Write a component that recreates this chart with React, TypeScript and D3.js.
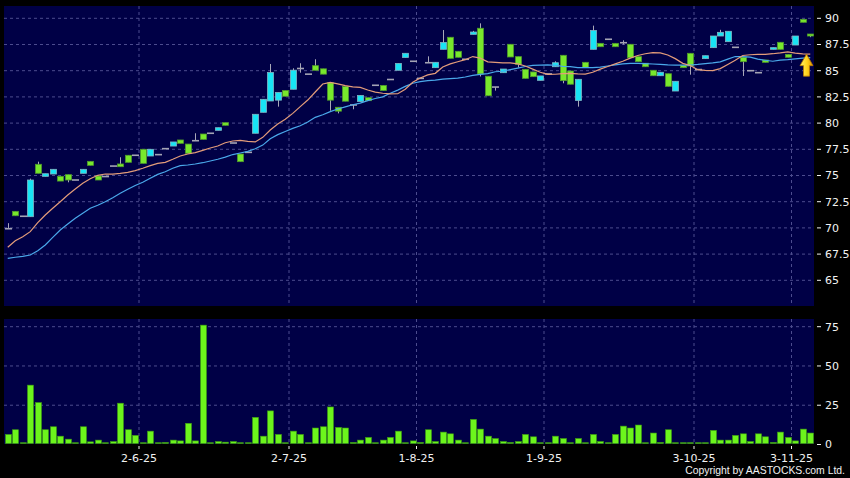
import React from "react";
import * as d3 from "d3";

// ---- data ----
const opens = [69.92, 71.58, 71.11, 71.07, 76.07, 74.92, 75.14, 74.92, 75.08, 74.57,
  75.21, 76.35, 74.95, 74.9, 75.9, 76.1, 76.93, 76.93, 77.5, 76.86,
  76.99, 77.56, 77.81, 78.39, 78.0, 78.32, 78.96, 79.03, 79.31, 80.04,
  78.1, 77.05, 77.21, 79.03, 81.03, 82.11, 82.19, 83.11, 83.23, 85.21,
  84.67, 85.48, 85.18, 83.85, 81.51, 83.49, 81.73, 82.06, 82.42, 83.61,
  83.59, 84.16, 85.04, 86.26, 85.9, 84.27, 85.76, 85.29, 87.04, 88.19,
  86.85, 86.09, 88.47, 89.05, 84.47, 83.44, 84.81, 87.52, 86.34, 85.13,
  84.88, 84.08, 84.69, 85.38, 86.47, 84.97, 82.16, 85.8, 87.04, 87.61,
  88.0, 87.61, 87.67, 87.52, 86.34, 85.71, 85.04, 84.52, 84.71, 83.06,
  85.52, 86.66, 85.11, 86.15, 87.2, 88.31, 87.77, 87.23, 86.28, 85.0,
  84.81, 86.02, 87.04, 87.71, 86.56, 87.45, 89.9, 88.5];

const closes = [69.92, 71.16, 71.11, 74.57, 75.21, 75.17, 75.59, 74.47, 74.57, 74.57,
  75.59, 75.97, 74.57, 74.9, 75.9, 75.84, 76.26, 76.93, 76.16, 77.5,
  76.99, 77.56, 78.2, 78.07, 77.12, 78.32, 78.45, 79.03, 79.56, 79.79,
  78.1, 76.32, 77.21, 80.84, 82.27, 84.83, 82.92, 82.56, 85.05, 85.21,
  84.67, 85.04, 84.67, 82.19, 81.14, 82.09, 81.73, 82.63, 82.14, 83.61,
  83.11, 84.16, 85.69, 86.66, 85.9, 84.27, 85.76, 85.8, 87.69, 86.18,
  86.28, 86.09, 88.69, 84.69, 82.61, 83.44, 85.16, 86.31, 85.61, 84.27,
  84.43, 84.5, 84.69, 85.76, 84.05, 83.71, 84.18, 85.31, 88.84, 87.29,
  88.0, 87.29, 87.67, 86.24, 85.86, 85.38, 84.52, 84.85, 83.51, 83.99,
  85.29, 85.45, 85.11, 86.43, 88.31, 88.66, 88.76, 87.23, 85.86, 85.0,
  84.81, 85.8, 87.2, 87.04, 86.28, 88.31, 89.62, 88.31];

const highs = [70.45, 71.58, 71.11, 74.7, 76.32, 75.17, 75.59, 74.92, 75.08, 74.57,
  75.59, 76.35, 74.95, 74.9, 75.9, 76.74, 76.93, 76.93, 77.5, 77.5,
  76.99, 77.56, 78.2, 78.39, 78.0, 79.03, 78.96, 79.03, 79.56, 80.04,
  78.1, 77.05, 77.21, 80.84, 82.27, 85.64, 82.92, 83.11, 85.23, 85.71,
  84.67, 86.09, 85.18, 83.85, 81.51, 83.49, 81.73, 82.63, 82.42, 83.61,
  83.59, 84.16, 85.69, 86.66, 85.9, 84.27, 86.37, 85.8, 88.88, 88.19,
  86.85, 86.09, 88.8, 89.52, 84.47, 83.44, 85.16, 87.52, 86.34, 85.13,
  84.88, 84.5, 84.69, 85.9, 86.47, 84.97, 84.18, 85.8, 89.3, 87.61,
  88.0, 87.61, 87.9, 87.52, 86.34, 85.71, 85.04, 84.85, 84.71, 83.99,
  85.52, 86.66, 85.11, 86.43, 88.31, 88.9, 88.76, 87.23, 86.28, 85.0,
  84.81, 86.02, 87.2, 87.71, 86.56, 88.31, 89.9, 88.5];

const lows = [69.92, 71.16, 71.11, 71.07, 75.21, 74.92, 75.14, 74.47, 74.35, 74.57,
  75.21, 75.97, 74.57, 74.9, 75.9, 75.84, 76.26, 76.93, 76.16, 76.86,
  76.99, 77.56, 77.81, 78.07, 77.12, 78.32, 78.45, 79.03, 79.31, 79.79,
  78.1, 76.32, 77.21, 79.03, 81.03, 82.11, 81.57, 82.56, 83.23, 84.81,
  84.67, 85.04, 84.67, 81.18, 80.93, 82.09, 81.32, 82.06, 82.14, 83.61,
  83.11, 84.16, 85.04, 86.26, 85.9, 84.27, 85.76, 85.29, 87.04, 86.18,
  86.28, 86.09, 88.47, 84.45, 82.61, 83.1, 84.81, 86.31, 85.3, 84.27,
  84.43, 84.08, 84.69, 85.38, 83.8, 83.71, 81.57, 85.31, 87.04, 87.29,
  88.0, 87.29, 87.5, 86.24, 85.86, 85.38, 84.52, 84.52, 83.51, 83.06,
  85.29, 84.62, 85.11, 86.15, 87.2, 88.31, 87.77, 87.23, 84.5, 85.0,
  84.81, 85.8, 87.04, 87.04, 86.28, 87.45, 89.62, 88.2];

const maFast = [68.15, 68.78, 69.16, 69.64, 70.5, 71.23, 71.87, 72.5, 73.14, 73.71,
  74.26, 74.69, 75.02, 75.14, 75.14, 75.21, 75.3, 75.46, 75.69, 75.94,
  76.16, 76.26, 76.55, 76.86, 77.05, 77.18, 77.4, 77.62, 77.81, 78.13,
  78.29, 78.36, 78.26, 78.2, 78.64, 79.34, 79.91, 80.36, 80.93, 81.57,
  82.2, 82.97, 83.73, 83.89, 83.75, 83.57, 83.45, 83.4, 83.16, 82.95,
  82.85, 82.78, 82.8, 83.23, 83.9, 84.3, 84.6, 84.75, 85.35, 85.65,
  85.85, 86.05, 86.35, 86.2, 85.85, 85.8, 85.75, 85.75, 85.65, 85.45,
  85.15, 84.85, 84.65, 84.66, 84.72, 84.75, 84.7, 84.68, 84.85, 85.15,
  85.4, 85.65, 85.9, 86.2, 86.45, 86.62, 86.72, 86.7, 86.5, 86.15,
  85.7, 85.5, 85.1, 85.03, 85.0, 85.2, 85.6, 86.0, 86.45, 86.52,
  86.55, 86.56, 86.62, 86.7, 86.8, 86.68, 86.6, 86.58];

const maSlow = [67.1, 67.2, 67.29, 67.41, 67.82, 68.37, 69.1, 69.8, 70.37, 70.92,
  71.39, 71.87, 72.16, 72.5, 72.88, 73.3, 73.68, 74.05, 74.35, 74.73,
  75.11, 75.36, 75.69, 75.94, 76.0, 76.1, 76.22, 76.38, 76.55, 76.75,
  77.0, 77.15, 77.3, 77.55, 77.9, 78.5, 78.9, 79.2, 79.5, 79.75,
  80.1, 80.55, 80.8, 81.1, 81.35, 81.55, 81.75, 81.9, 82.15, 82.35,
  82.5, 82.85, 83.15, 83.5, 83.8, 83.95, 84.05, 84.1, 84.2, 84.25,
  84.3, 84.4, 84.55, 84.65, 84.72, 84.9, 84.95, 85.1, 85.25, 85.4,
  85.5, 85.54, 85.55, 85.52, 85.42, 85.38, 85.3, 85.3, 85.3, 85.35,
  85.45, 85.55, 85.65, 85.7, 85.7, 85.68, 85.64, 85.6, 85.56, 85.54,
  85.54, 85.54, 85.6, 85.68, 85.75, 85.85, 86.1, 86.35, 86.35, 86.3,
  86.1, 86.0, 85.9, 86.0, 86.05, 86.12, 86.2, 86.25];

const volumes = [6.4, 9.4, 0.5, 37.8, 26.7, 9.4, 11.3, 5.3, 3.4, 0.5,
  11.3, 1.7, 2.8, 0.9, 1.9, 26.3, 9.4, 5.8, 0.3, 8.5,
  0.9, 1.3, 2.8, 2.3, 13.5, 2.3, 76, 0.9, 1.9, 1.5,
  1.9, 0.9, 0.4, 17.3, 5.3, 21.4, 6.4, 0.4, 8.5, 6.4,
  0.9, 10.5, 11.3, 23.9, 10.9, 10.5, 1.3, 2.8, 4.5, 0.9,
  2.8, 4.5, 8.5, 0.9, 2.3, 1.3, 9.4, 1.9, 7.9, 6.8,
  2.8, 0.3, 16, 9.8, 5.3, 3.8, 1.9, 1.3, 1.9, 6.4,
  4.9, 0.3, 0.3, 5.3, 3.8, 0.4, 3.8, 0.6, 6.4, 1.9,
  0.6, 6.4, 11.7, 10.5, 12.4, 0.6, 7.3, 1.3, 9.4, 0.6,
  0.6, 0.6, 1.1, 0.6, 9.0, 2.8, 2.8, 5.8, 6.8, 1.9,
  6.8, 4.9, 1.3, 7.9, 4.5, 2.3, 9.8, 7.3];

const dateLabels = ["2-6-25", "2-7-25", "1-8-25", "1-9-25", "3-10-25", "3-11-25"];
const dateSlots = [18, 38, 55, 72, 92, 105];
const priceTicks = [65, 67.5, 70, 72.5, 75, 77.5, 80, 82.5, 85, 87.5, 90];
const volumeTicks = [0, 25, 50, 75];

// ---- layout ----
const W = 850;
const H = 478;
const PL = 4, PR = 814;
const MAIN_TOP = 6, MAIN_BOT = 306;
const VOL_TOP = 319, VOL_BOT = 444;

const COL = {
  bg: "#000000",
  panel: "#000046",
  grid: "#4c4c8e",
  text: "#f2f2f2",
  up: "#18e4f4",
  upStroke: "#7fb6c4",
  down: "#78e82c",
  downStroke: "#4f9a2c",
  doji: "#a4a4b4",
  wick: "#a8a8b8",
  maFast: "#e39c7a",
  maSlow: "#4aa8ea",
  vol: "#6cf41c",
  volStroke: "#3c9a12",
};

export default function App() {
  const N = closes.length;
  const idx = d3.range(N);
  const x = d3.scaleBand<number>().domain(idx).range([PL, PR]).paddingInner(0).paddingOuter(0);
  const bw = x.bandwidth();
  const cx = (i: number) => (x(i) as number) + bw / 2;
  const slotX = (k: number) => PL + k * bw;

  const y = d3.scaleLinear().domain([65, 90]).range([280.3, 18.3]);
  const yv = d3.scaleLinear().domain([0, 75]).range([444.5, 326.7]);

  const line = (arr: number[]) =>
    d3.line<number>().x((_, i) => cx(i)).y((d) => y(d)).curve(d3.curveLinear)(arr) || "";

  const bodyW = 6;
  const volW = 6;

  // arrow at the end of the fast MA
  const ax = (cx(N - 2) + cx(N - 1)) / 2;
  const ay = y(maFast[N - 1]);
  const arrowPath = `M ${ax} ${ay} L ${ax + 6.5} ${ay + 11.5} L ${ax + 3} ${ay + 11.5} L ${ax + 3} ${ay + 22} L ${ax - 3} ${ay + 22} L ${ax - 3} ${ay + 11.5} L ${ax - 6.5} ${ay + 11.5} Z`;

  const font = "'DejaVu Sans', Verdana, sans-serif";

  return (
    <svg
      width={W}
      height={H}
      style={{ position: "absolute", left: 0, top: 0, display: "block" }}
      xmlns="http://www.w3.org/2000/svg"
    >
      <defs>
        <linearGradient id="arrowGrad" x1="0" y1="0" x2="1" y2="0">
          <stop offset="0" stopColor="#fff36a" />
          <stop offset="0.55" stopColor="#ffd21a" />
          <stop offset="1" stopColor="#e09000" />
        </linearGradient>
      </defs>
      <rect x={0} y={0} width={W} height={H} fill={COL.bg} />

      {/* main panel */}
      <rect x={PL} y={MAIN_TOP} width={PR - PL} height={MAIN_BOT - MAIN_TOP} fill={COL.panel} />
      {priceTicks.map((t) => (
        <line key={"pg" + t} x1={PL} x2={PR} y1={y(t)} y2={y(t)} stroke={COL.grid} strokeWidth={1} strokeDasharray="3,3" />
      ))}
      {dateSlots.map((k) => (
        <line key={"vg" + k} x1={slotX(k)} x2={slotX(k)} y1={MAIN_TOP} y2={MAIN_BOT} stroke={COL.grid} strokeWidth={1} strokeDasharray="3,3" />
      ))}

      {/* candles */}
      {idx.map((i) => {
        const o = opens[i], c = closes[i];
        const xc = Math.round(cx(i)) + 0.5;
        const hi = y(highs[i]), lo = y(lows[i]);
        if (o === c) {
          return (
            <g key={"c" + i}>
              {hi < lo - 0.5 && <line x1={xc} x2={xc} y1={hi} y2={lo} stroke={COL.wick} strokeWidth={1} />}
              <line x1={xc - bodyW / 2 - 0.5} x2={xc + bodyW / 2 + 0.5} y1={y(o)} y2={y(o)} stroke={COL.doji} strokeWidth={1.6} />
            </g>
          );
        }
        const up = c > o;
        const top = y(Math.max(o, c));
        const bot = y(Math.min(o, c));
        return (
          <g key={"c" + i}>
            <line x1={xc} x2={xc} y1={hi} y2={lo} stroke={COL.wick} strokeWidth={1} />
            <rect
              x={xc - bodyW / 2}
              y={top}
              width={bodyW}
              height={Math.max(1.5, bot - top)}
              fill={up ? COL.up : COL.down}
              stroke={up ? COL.upStroke : COL.downStroke}
              strokeWidth={0.8}
            />
          </g>
        );
      })}

      {/* moving averages */}
      <path d={line(maSlow)} fill="none" stroke={COL.maSlow} strokeWidth={1.2} />
      <path d={line(maFast)} fill="none" stroke={COL.maFast} strokeWidth={1.2} />

      {/* arrow */}
      <path d={arrowPath} fill="url(#arrowGrad)" stroke="#b87a00" strokeWidth={0.8} />

      {/* price axis */}
      {priceTicks.map((t) => (
        <g key={"pt" + t}>
          <line x1={817} x2={821} y1={y(t)} y2={y(t)} stroke={COL.text} strokeWidth={1} />
          <text x={825} y={y(t)} dy="0.36em" fill={COL.text} fontSize={11} fontFamily={font}>
            {t}
          </text>
        </g>
      ))}

      {/* volume panel */}
      <rect x={PL} y={VOL_TOP} width={PR - PL} height={VOL_BOT - VOL_TOP} fill={COL.panel} />
      {volumeTicks.filter((t) => t > 0).map((t) => (
        <line key={"vgh" + t} x1={PL} x2={PR} y1={yv(t)} y2={yv(t)} stroke={COL.grid} strokeWidth={1} strokeDasharray="3,3" />
      ))}
      {dateSlots.map((k) => (
        <line key={"vgv" + k} x1={slotX(k)} x2={slotX(k)} y1={VOL_TOP} y2={VOL_BOT} stroke={COL.grid} strokeWidth={1} strokeDasharray="3,3" />
      ))}
      {idx.map((i) => {
        const top = yv(volumes[i]);
        const base = yv(0) - 1;
        return (
          <rect
            key={"v" + i}
            x={Math.round(cx(i)) - volW / 2 + 0.5}
            y={Math.min(top, base - 0.8)}
            width={volW}
            height={Math.max(0.8, base - top)}
            fill={COL.vol}
            stroke={COL.volStroke}
            strokeWidth={0.6}
          />
        );
      })}

      {/* volume axis */}
      {volumeTicks.map((t) => (
        <g key={"vt" + t}>
          <line x1={817} x2={821} y1={yv(t)} y2={yv(t)} stroke={COL.text} strokeWidth={1} />
          <text x={825} y={yv(t)} dy="0.36em" fill={COL.text} fontSize={11} fontFamily={font}>
            {t}
          </text>
        </g>
      ))}

      {/* date axis */}
      {dateSlots.map((k, j) => (
        <g key={"dt" + k}>
          <line x1={slotX(k)} x2={slotX(k)} y1={446} y2={449} stroke={COL.text} strokeWidth={1} />
          <text x={slotX(k)} y={462} textAnchor="middle" fill={COL.text} fontSize={11} fontFamily={font}>
            {dateLabels[j]}
          </text>
        </g>
      ))}

      <text x={845} y={474} textAnchor="end" fill={COL.text} fontSize={10.4} fontFamily="'Liberation Sans', Arial, sans-serif">
        Copyright by AASTOCKS.com Ltd.
      </text>
    </svg>
  );
}
